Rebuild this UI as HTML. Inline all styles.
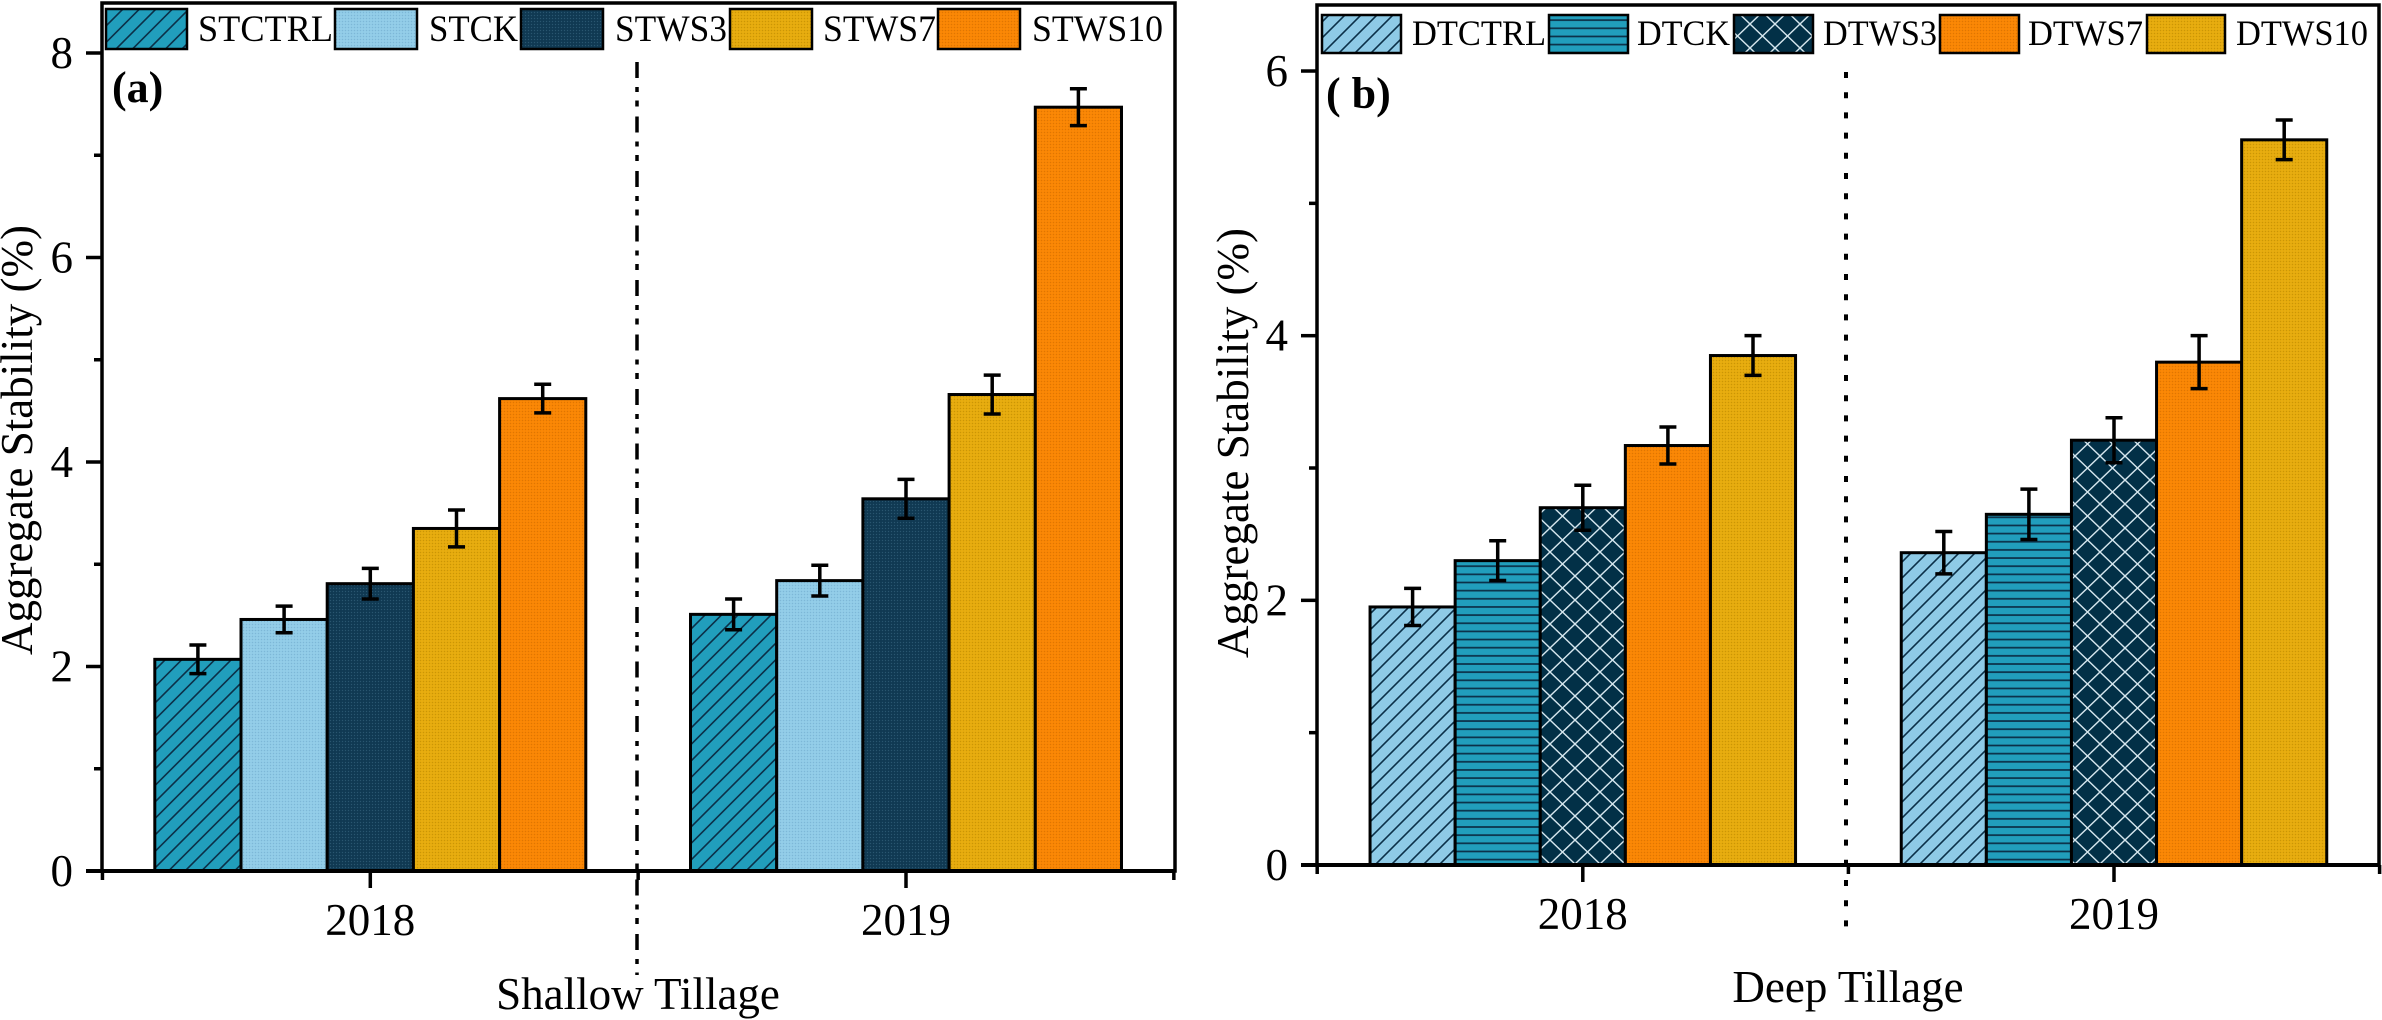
<!DOCTYPE html>
<html lang="en">
<head>
<meta charset="utf-8">
<title>Aggregate Stability</title>
<style>
html,body{margin:0;padding:0;background:#fff;width:2382px;height:1020px;overflow:hidden}
svg{display:block}
text{font-family:"Liberation Serif",serif;fill:#000}
</style>
</head>
<body>
<svg id="fig" xmlns="http://www.w3.org/2000/svg" width="2382" height="1020" viewBox="0 0 2382 1020">
<defs>
<pattern id="dot-light" width="3" height="3" patternUnits="userSpaceOnUse"><rect width="3" height="3" fill="#8ecae6"/><rect width="1" height="1" fill="#7fb6d6"/><rect x="1.5" y="1.5" width="1" height="1" fill="#a6d6ee"/></pattern>
<pattern id="dot-navy" width="3" height="3" patternUnits="userSpaceOnUse"><rect width="3" height="3" fill="#123c56"/><rect width="1" height="1" fill="#2a566f"/><rect x="1.5" y="1.5" width="1" height="1" fill="#0b2f46"/></pattern>
<pattern id="dot-yellow" width="3" height="3" patternUnits="userSpaceOnUse"><rect width="3" height="3" fill="#e4a90b"/><rect width="1" height="1" fill="#c99508"/><rect x="1.5" y="1.5" width="1" height="1" fill="#efb822"/></pattern>
<pattern id="dot-orange" width="3" height="3" patternUnits="userSpaceOnUse"><rect width="3" height="3" fill="#f88402"/><rect width="1" height="1" fill="#dd7604"/><rect x="1.5" y="1.5" width="1" height="1" fill="#ff9416"/></pattern>
<pattern id="hatch-teal" width="16.5" height="16.5" patternUnits="userSpaceOnUse"><rect width="16.5" height="16.5" fill="#219ebc"/><path d="M-2 18.5L18.5 -2M-2 2L2 -2M14.5 18.5L18.5 14.5" stroke="#0b3048" stroke-width="1.6"/></pattern>
<pattern id="hatch-light" width="16" height="16" patternUnits="userSpaceOnUse"><rect width="16" height="16" fill="#8ecae6"/><path d="M-2 18L18 -2M-2 2L2 -2M14 18L18 14" stroke="#0b3048" stroke-width="1.6"/></pattern>
<pattern id="lines-teal" width="8" height="8.15" patternUnits="userSpaceOnUse"><rect width="8" height="8.15" fill="#219ebc"/><rect y="3" width="8" height="1.7" fill="#0b3048"/></pattern>
<pattern id="cross-navy" width="25" height="24" patternUnits="userSpaceOnUse"><rect width="25" height="24" fill="#023047"/><path d="M0 0L25 24M0 24L25 0" stroke="#d5e6ee" stroke-width="1.4"/></pattern>
</defs>

<g id="panel-a">
  <rect x="102" y="3" width="1073" height="868" fill="none" stroke="#000" stroke-width="3.5"/>
  <g id="marks-a"></g>
  <line x1="637" y1="62" x2="637" y2="975" stroke="#000" stroke-width="3.5" stroke-dasharray="16 9 5 8.5 6 10"/>
  <g id="axes-a"></g>
  <text x="112" y="102" font-size="44" font-weight="bold">(a)</text>
  <text transform="translate(32 440) rotate(-90)" text-anchor="middle" font-size="45">Aggregate Stability (%)</text>
  <text x="638" y="1009" text-anchor="middle" font-size="45">Shallow Tillage</text>
  <g stroke="#000">
    <rect x="106" y="9" width="81" height="40" fill="url(#hatch-teal)" stroke-width="2.5"/>
    <rect x="335" y="9" width="82" height="40" fill="url(#dot-light)" stroke-width="2.5"/>
    <rect x="521" y="9" width="82" height="40" fill="url(#dot-navy)" stroke-width="2.5"/>
    <rect x="730" y="9" width="82" height="40" fill="url(#dot-yellow)" stroke-width="2.5"/>
    <rect x="938" y="9" width="82" height="40" fill="url(#dot-orange)" stroke-width="2.5"/>
  </g>
  <text x="198" y="41" font-size="37" textLength="135" lengthAdjust="spacingAndGlyphs">STCTRL</text>
  <text x="429" y="41" font-size="37" textLength="89" lengthAdjust="spacingAndGlyphs">STCK</text>
  <text x="615" y="41" font-size="37" textLength="112" lengthAdjust="spacingAndGlyphs">STWS3</text>
  <text x="823" y="41" font-size="37" textLength="113" lengthAdjust="spacingAndGlyphs">STWS7</text>
  <text x="1032" y="41" font-size="37" textLength="131" lengthAdjust="spacingAndGlyphs">STWS10</text>
</g>

<g id="panel-b">
  <rect x="1317" y="5" width="1062" height="860" fill="none" stroke="#000" stroke-width="3.5"/>
  <g id="marks-b"></g>
  <line x1="1846" y1="72" x2="1846" y2="932" stroke="#000" stroke-width="4" stroke-dasharray="6 14.2"/>
  <g id="axes-b"></g>
  <text x="1326" y="108" font-size="44" font-weight="bold" xml:space="preserve">( b)</text>
  <text transform="translate(1248 443) rotate(-90)" text-anchor="middle" font-size="45">Aggregate Stability (%)</text>
  <text x="1848" y="1002" text-anchor="middle" font-size="45">Deep Tillage</text>
  <g stroke="#000">
    <rect x="1322" y="15" width="79" height="38" fill="url(#hatch-light)" stroke-width="2.5"/>
    <rect x="1549" y="15" width="79" height="38" fill="url(#lines-teal)" stroke-width="2.5"/>
    <rect x="1734" y="15" width="79" height="38" fill="url(#cross-navy)" stroke-width="2.5"/>
    <rect x="1940" y="15" width="79" height="38" fill="url(#dot-orange)" stroke-width="2.5"/>
    <rect x="2147" y="15" width="78" height="38" fill="url(#dot-yellow)" stroke-width="2.5"/>
  </g>
  <text x="1412" y="45" font-size="36" textLength="134" lengthAdjust="spacingAndGlyphs">DTCTRL</text>
  <text x="1637" y="45" font-size="36" textLength="93" lengthAdjust="spacingAndGlyphs">DTCK</text>
  <text x="1823" y="45" font-size="36" textLength="114" lengthAdjust="spacingAndGlyphs">DTWS3</text>
  <text x="2028" y="45" font-size="36" textLength="115" lengthAdjust="spacingAndGlyphs">DTWS7</text>
  <text x="2236" y="45" font-size="36" textLength="132" lengthAdjust="spacingAndGlyphs">DTWS10</text>
</g>
</svg>

<script>
const years = ['2018', '2019'];
const shallowSeries = ['stctrl', 'stck', 'stws3', 'stws7', 'stws10'];
const shallow2018 = [2.07, 2.46, 2.81, 3.35, 4.62];
const shallow2019 = [2.51, 2.84, 3.64, 4.66, 7.47];
const shallowErr2018 = [0.14, 0.13, 0.15, 0.18, 0.14];
const shallowErr2019 = [0.15, 0.15, 0.19, 0.19, 0.18];
const deepSeries = ['dtctrl', 'dtck', 'dtws3', 'dtws7', 'dtws10'];
const deep2018 = [1.95, 2.30, 2.70, 3.17, 3.85];
const deep2019 = [2.36, 2.65, 3.21, 3.80, 5.48];
const deepErr2018 = [0.14, 0.15, 0.17, 0.14, 0.15];
const deepErr2019 = [0.16, 0.19, 0.17, 0.20, 0.15];
const shallowMajorTicks = [0, 2, 4, 6, 8];
const shallowMinorTicks = [1, 3, 5, 7];
const deepMajorTicks = [0, 2, 4, 6];
const deepMinorTicks = [1, 3, 5];
const shallowFills = ['url(#hatch-teal)', 'url(#dot-light)', 'url(#dot-navy)', 'url(#dot-yellow)', 'url(#dot-orange)'];
const deepFills = ['url(#hatch-light)', 'url(#lines-teal)', 'url(#cross-navy)', 'url(#dot-orange)', 'url(#dot-yellow)'];

const NS = 'http://www.w3.org/2000/svg';
function make(parent, tag, attrs) {
  const el = document.createElementNS(NS, tag);
  for (const k in attrs) el.setAttribute(k, attrs[k]);
  parent.appendChild(el);
  return el;
}

function drawPanel(cfg) {
  const marks = document.getElementById(cfg.marksId);
  const axes = document.getElementById(cfg.axesId);
  const y = cfg.y, x = cfg.x;

  [cfg.v2018, cfg.v2019].forEach(function (vals, g) {
    const errs = g === 0 ? cfg.e2018 : cfg.e2019;
    vals.forEach(function (v, i) {
      const left = x(g) + (i - 2.5) * cfg.barW;
      const bar = make(marks, 'rect', {x: left, y: y(v), width: cfg.barW, height: y(0) - y(v), fill: cfg.fills[i], stroke: '#000', 'stroke-width': 3});
      
      
    });
    vals.forEach(function (v, i) {
      const cx = x(g) + (i - 2) * cfg.barW;
      const e = errs[i];
      const eb = make(marks, 'path', {d: 'M' + cx + ' ' + y(v + e) + 'V' + y(v - e) + 'M' + (cx - 8.5) + ' ' + y(v + e) + 'h17M' + (cx - 8.5) + ' ' + y(v - e) + 'h17', fill: 'none', stroke: '#000', 'stroke-width': 3.5});
      
      
    });
  });

  const xAxis = make(axes, 'line', {x1: cfg.axisX - 16, x2: cfg.rightX, y1: y(0), y2: y(0), stroke: '#000', 'stroke-width': 4});
  
  

  cfg.major.forEach(function (t) {
    if (t !== 0) {
      const tick = make(axes, 'line', {x1: cfg.axisX - 16, x2: cfg.axisX, y1: y(t), y2: y(t), stroke: '#000', 'stroke-width': 3.5});
      
      
    }
    const lab = make(axes, 'text', {x: cfg.axisX - 29, y: y(t) + 15, 'text-anchor': 'end', 'font-size': 45});
    lab.textContent = String(t);
    
    
  });
  cfg.minor.forEach(function (t) {
    const tick = make(axes, 'line', {x1: cfg.axisX - 8, x2: cfg.axisX, y1: y(t), y2: y(t), stroke: '#000', 'stroke-width': 3.5});
    
    
  });
  years.forEach(function (yr, g) {
    const tick = make(axes, 'line', {x1: x(g), x2: x(g), y1: y(0), y2: y(0) + 17, stroke: '#000', 'stroke-width': 3.5});
    
    
    const lab = make(axes, 'text', {x: x(g), y: y(0) + 64, 'text-anchor': 'middle', 'font-size': 45});
    lab.textContent = yr;
    
    
  });
  [-0.5, 0.5, 1.5].forEach(function (c) {
    const tick = make(axes, 'line', {x1: x(c), x2: x(c), y1: y(0), y2: y(0) + 9, stroke: '#000', 'stroke-width': 3.5});
    
    
  });
}

drawPanel({
  marksId: 'marks-a', axesId: 'axes-a', barW: 86.2, axisX: 102, rightX: 1175,
  series: shallowSeries, fills: shallowFills,
  v2018: shallow2018, v2019: shallow2019, e2018: shallowErr2018, e2019: shallowErr2019,
  major: shallowMajorTicks, minor: shallowMinorTicks,
  y: function (v) { return 871 - v * 102.25; },
  x: function (c) { return 370.3 + c * 535.7; }
});
drawPanel({
  marksId: 'marks-b', axesId: 'axes-b', barW: 85.1, axisX: 1317, rightX: 2379,
  series: deepSeries, fills: deepFills,
  v2018: deep2018, v2019: deep2019, e2018: deepErr2018, e2019: deepErr2019,
  major: deepMajorTicks, minor: deepMinorTicks,
  y: function (v) { return 865 - v * 132.33; },
  x: function (c) { return 1582.8 + c * 531.2; }
});
</script>
</body>
</html>
